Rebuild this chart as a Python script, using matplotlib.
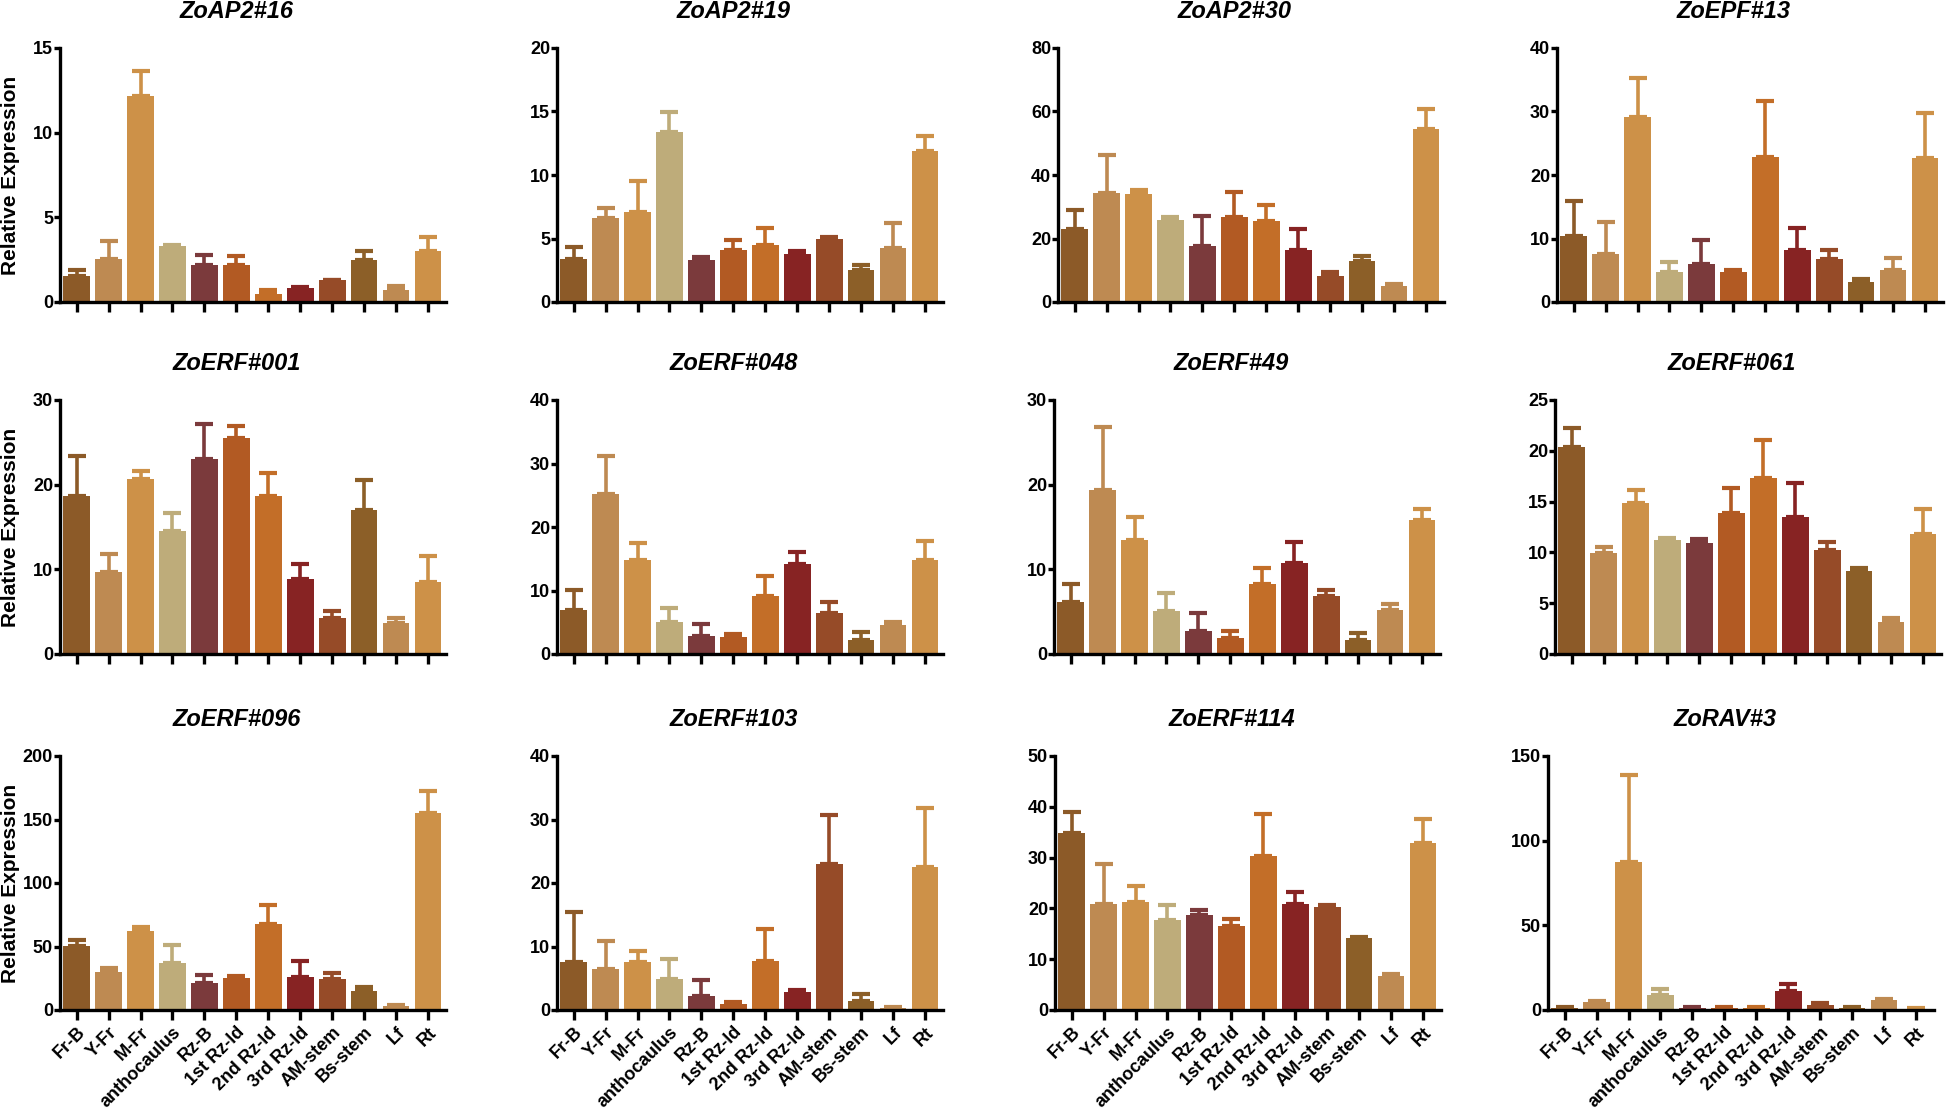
import matplotlib
matplotlib.use('Agg')
import matplotlib.pyplot as plt
import numpy as np

plt.rcParams['font.family'] = ['Liberation Sans', 'DejaVu Sans']
plt.rcParams['font.weight'] = 'bold'

tissues = ["Fr-B", "Y-Fr", "M-Fr", "anthocaulus", "Rz-B", "1st Rz-ld", "2nd Rz-ld",
           "3rd Rz-ld", "AM-stem", "Bs-stem", "Lf", "Rt"]
colors = ["#8C5A28", "#BE8A52", "#CD9148", "#BEAC7A", "#7B3A3C", "#B25A23",
          "#C36E28", "#872323", "#964B28", "#8C5F28", "#BE8A52", "#CD9148"]

genes = ["ZoAP2#16", "ZoAP2#19", "ZoAP2#30", "ZoEPF#13",
         "ZoERF#001", "ZoERF#048", "ZoERF#49", "ZoERF#061",
         "ZoERF#096", "ZoERF#103", "ZoERF#114", "ZoRAV#3"]

ap2_16_mean = [1.52, 2.52, 12.19, 3.31, 2.17, 2.17, 0.49, 0.83, 1.28, 2.46, 0.73, 2.99]
ap2_16_err = [0.35, 1.08, 1.45, 0.05, 0.59, 0.57, 0.20, 0.03, 0.03, 0.53, 0.21, 0.83]
ap2_19_mean = [3.41, 6.64, 7.06, 13.36, 3.28, 4.12, 4.51, 3.81, 4.99, 2.49, 4.28, 11.86]
ap2_19_err = [0.92, 0.79, 2.49, 1.60, 0.26, 0.74, 1.34, 0.21, 0.13, 0.45, 1.97, 1.24]
ap2_30_mean = [23.1, 34.4, 34.1, 25.7, 17.7, 26.7, 25.4, 16.3, 8.1, 12.8, 4.9, 54.4]
ap2_30_err = [5.9, 12.0, 1.3, 1.0, 9.3, 8.1, 5.0, 6.7, 1.2, 1.8, 0.7, 6.3]
epf_13_mean = [10.34, 7.5, 29.2, 4.67, 6.04, 4.67, 22.8, 8.14, 6.72, 3.1, 4.99, 22.6]
epf_13_err = [5.56, 5.1, 6.0, 1.63, 3.76, 0.43, 8.9, 3.51, 1.42, 0.57, 1.99, 7.1]
erf_001_mean = [18.7, 9.72, 20.7, 14.57, 23.07, 25.55, 18.7, 8.86, 4.29, 17.0, 3.7, 8.54]
erf_001_err = [4.7, 2.08, 0.95, 2.08, 4.1, 1.38, 2.64, 1.77, 0.79, 3.6, 0.59, 3.03]
erf_048_mean = [6.93, 25.14, 14.8, 5.04, 2.83, 2.68, 9.13, 14.12, 6.46, 2.2, 4.57, 14.8]
erf_048_err = [3.1, 6.04, 2.68, 2.15, 1.89, 0.52, 3.15, 1.94, 1.73, 1.26, 0.52, 3.0]
erf_49_mean = [6.1, 19.33, 13.43, 5.04, 2.72, 1.89, 8.23, 10.71, 6.81, 1.61, 5.2, 15.79]
erf_49_err = [2.13, 7.44, 2.79, 2.2, 2.12, 0.79, 1.93, 2.56, 0.79, 0.87, 0.7, 1.3]
erf_061_mean = [20.34, 9.94, 14.83, 11.22, 10.93, 13.85, 17.32, 13.45, 10.2, 8.17, 3.12, 11.81]
erf_061_err = [1.86, 0.56, 1.31, 0.18, 0.37, 2.49, 3.74, 3.35, 0.8, 0.33, 0.38, 2.46]
erf_096_mean = [50.3, 29.9, 62.1, 37.0, 21.2, 25.2, 67.6, 26.2, 24.4, 14.9, 3.4, 154.9]
erf_096_err = [5.0, 2.9, 2.9, 13.9, 6.1, 1.8, 15.0, 12.1, 4.4, 2.9, 0.5, 17.6]
erf_103_mean = [7.6, 6.5, 7.6, 4.93, 2.25, 0.89, 7.76, 2.78, 23.07, 1.47, 0.37, 22.54]
erf_103_err = [7.76, 4.35, 1.73, 3.04, 2.42, 0.31, 4.93, 0.42, 7.7, 1.05, 0.1, 9.33]
erf_114_mean = [34.86, 20.9, 21.3, 17.63, 18.61, 16.58, 30.41, 20.9, 20.18, 14.15, 6.62, 32.9]
erf_114_err = [4.07, 7.87, 3.14, 3.01, 1.11, 1.38, 8.19, 2.36, 0.46, 0.2, 0.52, 4.65]
rav_3_mean = [1.2, 4.7, 87.3, 9.0, 1.4, 1.2, 1.2, 11.4, 3.1, 1.2, 5.9, 0.8]
rav_3_err = [0.4, 0.8, 51.3, 3.2, 0.4, 0.3, 0.3, 4.1, 1.2, 0.3, 0.4, 0.2]

means = [ap2_16_mean, ap2_19_mean, ap2_30_mean, epf_13_mean,
         erf_001_mean, erf_048_mean, erf_49_mean, erf_061_mean,
         erf_096_mean, erf_103_mean, erf_114_mean, rav_3_mean]
errs = [ap2_16_err, ap2_19_err, ap2_30_err, epf_13_err,
        erf_001_err, erf_048_err, erf_49_err, erf_061_err,
        erf_096_err, erf_103_err, erf_114_err, rav_3_err]
ymax = [15, 20, 80, 40, 30, 40, 30, 25, 200, 40, 50, 150]
ystep = [5, 5, 20, 10, 10, 10, 10, 5, 50, 10, 10, 50]

W, H = 1953, 1109
fig = plt.figure(figsize=(W / 100, H / 100), dpi=100)

lefts = [[60, 557, 1058, 1557], [60, 557, 1054, 1555], [60, 557, 1055, 1548]]
tops = [48, 400, 756]
ax_w, ax_h = 386, 254
lw = 2.4

x = np.arange(len(tissues))
for i in range(12):
    r, c = divmod(i, 4)
    L = lefts[r][c]
    T = tops[r]
    ax = fig.add_axes([L / W, 1 - (T + ax_h) / H, ax_w / W, ax_h / H])
    ax.bar(x, means[i], width=0.83, color=colors, zorder=2)
    for j in range(len(tissues)):
        ax.errorbar(x[j], means[i][j], yerr=[[0], [errs[i][j]]], fmt='none',
                    ecolor=colors[j], elinewidth=2.6, capsize=6.2, capthick=3.0,
                    zorder=1)
    ax.set_xlim(-0.52, 11.56)
    ax.set_ylim(0, ymax[i])
    ax.set_yticks(np.arange(0, ymax[i] + 0.1, ystep[i]))
    ax.set_xticks(x)
    for s in ['top', 'right']:
        ax.spines[s].set_visible(False)
    for s in ['left', 'bottom']:
        ax.spines[s].set_linewidth(lw)
        ax.spines[s].set_capstyle('projecting')
    ax.tick_params(axis='y', length=4, width=lw, labelsize=13, pad=1)
    ax.tick_params(axis='x', length=7, width=lw, labelsize=13, pad=3)
    for t in ax.get_yticklabels():
        t.set_fontweight('bold')
    if r == 2:
        ax.set_xticklabels(tissues, rotation=45, ha='right', va='top',
                           rotation_mode='anchor', fontweight='bold')
    else:
        ax.set_xticklabels([])
    fig.text((L + ax_w / 2 - 16) / W, 1 - (T - 37) / H, genes[i], ha='center',
             va='center', fontsize=17, fontweight='bold', fontstyle='italic')
    if c == 0:
        fig.text(11 / W, 1 - (T + ax_h / 2) / H, "Relative Expression",
                 rotation=90, ha='center', va='center', fontsize=15,
                 fontweight='bold')

fig.savefig('out.png', dpi=100, facecolor='white')
